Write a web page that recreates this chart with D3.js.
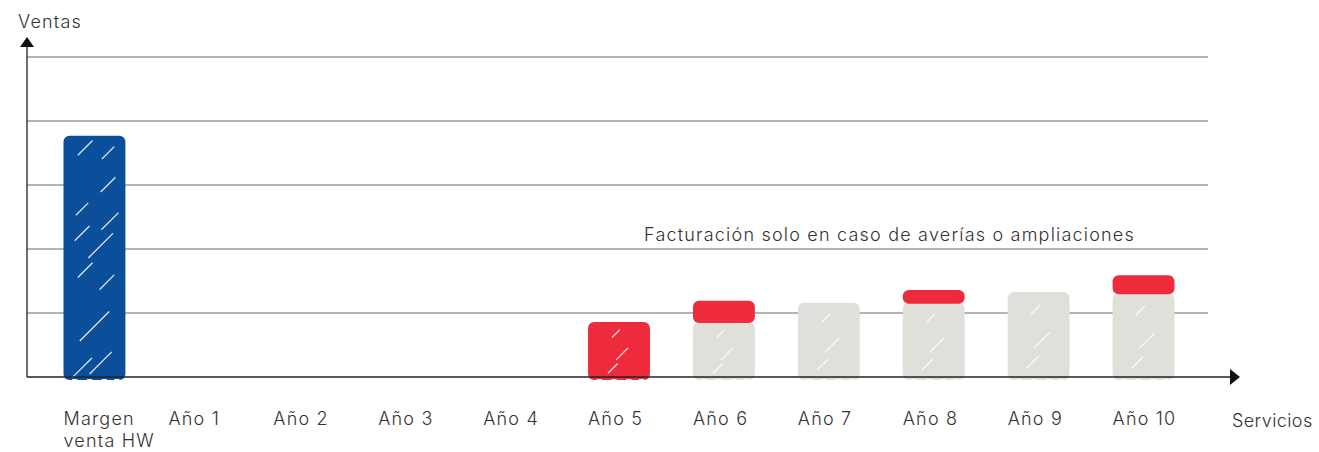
<!DOCTYPE html>
<html><head><meta charset="utf-8">
<script src="https://cdn.jsdelivr.net/npm/d3@7/dist/d3.min.js"></script>
<style>
body{margin:0;background:#fff;}
text{font-family:"Inter","Noto Sans",sans-serif;fill:#333;font-weight:300;letter-spacing:1.2px;}
</style></head>
<body><svg id="c" width="1319" height="452"></svg>
<script>
const categories = ["Margen venta HW","Año 1","Año 2","Año 3","Año 4","Año 5","Año 6","Año 7","Año 8","Año 9","Año 10"];
const hwMargin   = [3.77,0,0,0,0,0,0,0,0,0,0];
const serviceBase = [0,0,0,0,0,0,0.86,1.16,1.16,1.33,1.31];
const extraBilling = [0,0,0,0,0,0.86,0.33,0,0.20,0,0.28];
const gridTicks = [1,2,3,4,5];
const yLabel = "Ventas", xLabel = "Servicios";
const note = "Facturación solo en caso de averías o ampliaciones";

const svg = d3.select("#c");
const x = d3.scaleBand().domain(categories).range([42,1196]).paddingInner(0.41).paddingOuter(0.205);
const y = d3.scaleLinear().domain([0,5]).range([377,57]);
const x0 = 27, xEnd = 1238;

// grid
svg.append("g").selectAll("line").data(gridTicks).join("line")
  .attr("x1",x0).attr("x2",1208).attr("y1",d=>y(d)).attr("y2",d=>y(d))
  .attr("stroke","#6a6a6a").attr("stroke-width",1.2);

// segments
const segs = [];
categories.forEach((c,i)=>{
  if(hwMargin[i]>0) segs.push({c,y0:0,y1:hwMargin[i],col:"#0b4f9b",i});
  if(serviceBase[i]>0) segs.push({c,y0:0,y1:serviceBase[i],col:"#e0e0da",i});
  if(extraBilling[i]>0){const b=serviceBase[i]; segs.push({c,y0:b,y1:b+extraBilling[i],col:"#ee2b3d",i});}
});
const bw = x.bandwidth();
const g = svg.append("g");
segs.forEach(s=>{
  const left = x(s.c), top = y(s.y1), bot = s.y0===0 ? y(0)+3 : y(s.y0)+1;
  const h = bot-top;
  g.append("rect").attr("x",left).attr("y",top).attr("width",bw).attr("height",h)
    .attr("rx",6).attr("fill",s.col);
  if(s.y0===0){
    const sc = [0.18,0.42,0.66,0.86];
    sc.forEach(f=>{
      g.append("path").attr("d",`M${left+bw*f-3},${bot-1} l3,3 l3,-3 z`).attr("fill","#fff");
    });
  }
  if(h>25){
    const hs = s.col==="#0b4f9b"
      ? [[0.35,0.05,0.04],[0.72,0.07,0.03],[0.72,0.2,0.04],[0.3,0.3,0.03],[0.75,0.35,0.05],[0.3,0.4,0.04],[0.6,0.45,0.08],[0.35,0.55,0.04],[0.7,0.6,0.04],[0.5,0.78,0.1],[0.3,0.95,0.06],[0.6,0.93,0.07]]
      : [[0.55,0.55,0.12],[0.4,0.8,0.08],[0.45,0.2,0.05]];
    hs.forEach(([fx,fy,len])=>{
      const cx = left+bw*fx, cy = top+h*fy, L = Math.min(h*len+5,30);
      g.append("line").attr("x1",cx-L/2).attr("y1",cy+L/2).attr("x2",cx+L/2).attr("y2",cy-L/2)
        .attr("stroke","#fff").attr("stroke-opacity",0.85).attr("stroke-width",1.3);
    });
  }
});

// axes
svg.append("line").attr("x1",x0).attr("x2",x0).attr("y1",44).attr("y2",y(0)).attr("stroke","#222").attr("stroke-width",1.3);
svg.append("path").attr("d",`M${x0-7},47 L${x0},37 L${x0+7},47 Z`).attr("fill","#111");
svg.append("line").attr("x1",x0).attr("x2",xEnd-6).attr("y1",y(0)).attr("y2",y(0)).attr("stroke","#222").attr("stroke-width",1.3);
svg.append("path").attr("d",`M${xEnd-8},${y(0)-8} L${xEnd+2},${y(0)} L${xEnd-8},${y(0)+8} Z`).attr("fill","#111");

// category labels
const lab = svg.append("g").selectAll("text").data(categories).join("text")
  .attr("x",d=>x(d)).attr("y",425).attr("font-size",18);
lab.each(function(d){
  const words = d==="Margen venta HW" ? ["Margen","venta HW"] : [d];
  d3.select(this).selectAll("tspan").data(words).join("tspan")
    .attr("x",x(d)).attr("dy",(w,i)=>i?22:0).text(w=>w);
});

svg.append("text").attr("x",18).attr("y",28).attr("font-size",18).text(yLabel);
svg.append("text").attr("x",1232).attr("y",427).attr("font-size",18).style("letter-spacing","0.4px").text(xLabel);
svg.append("text").attr("x",644).attr("y",241).attr("font-size",18).text(note);
</script></body></html>
